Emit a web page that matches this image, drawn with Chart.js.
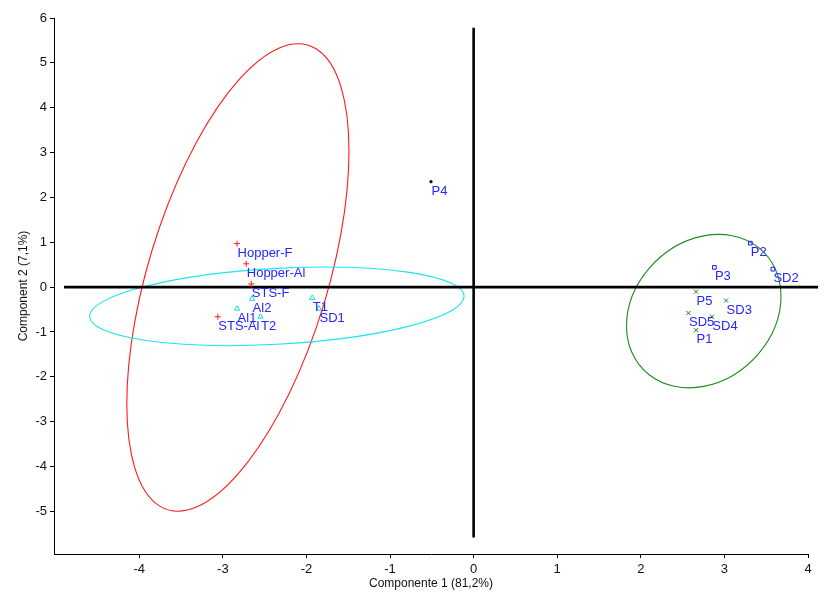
<!DOCTYPE html>
<html>
<head>
<meta charset="utf-8">
<script src="https://cdn.jsdelivr.net/npm/chart.js@4.4.1/dist/chart.umd.min.js"></script>
<style>
  html, body { margin: 0; padding: 0; background: #ffffff; }
  canvas { display: block; }
</style>
</head>
<body>
<canvas id="pca" width="832" height="594"></canvas>
<script>
// PCA scores, grouped by sample family
const redNames = ['Hopper-F', 'Hopper-Al', 'STS-F', 'STS-Al'];
const redX = [-2.83, -2.72, -2.66, -3.06];
const redY = [0.97, 0.52, 0.07, -0.66];

const cyanNames = ['Al2', 'Al1', 'T2', 'T1', 'SD1'];
const cyanX = [-2.65, -2.83, -2.55, -1.93, -1.85];
const cyanY = [-0.26, -0.48, -0.66, -0.24, -0.48];

const blackNames = ['P4'];
const blackX = [-0.51];
const blackY = [2.35];

const blueNames = ['P2', 'P3', 'SD2'];
const blueX = [3.31, 2.88, 3.58];
const blueY = [0.98, 0.44, 0.40];

const greenNames = ['P5', 'SD3', 'SD5', 'SD4', 'P1'];
const greenX = [2.66, 3.02, 2.57, 2.85, 2.66];
const greenY = [-0.10, -0.30, -0.58, -0.66, -0.96];

// Confidence ellipses: centre and two conjugate semi-axis vectors (data units)
const ellipseColors = ['#ff1a1a', '#18e6f0', '#1f8a1f'];
const ellipseCenters = [[-2.82, 0.215], [-2.354, -0.428], [2.753, -0.535]];
const ellipseAxisA = [[1.329, 2.817], [2.240, 0.223], [0.924, 0.330]];
const ellipseAxisB = [[0, 4.384], [0, 0.847], [0, 1.678]];

// Origin reference lines
const hLineX = [-4.9, 4.12];
const hLineY = [0, 0];
const vLineX = [0, 0];
const vLineY = [5.78, -5.58];

// Axis ranges and labelled ticks
const xRange = [-5.02, 4];
const yRange = [-5.95, 6];
const xTickValues = [-4, -3, -2, -1, 0, 1, 2, 3, 4];
const yTickValues = [-5, -4, -3, -2, -1, 0, 1, 2, 3, 4, 5, 6];

const pts = (xs, ys, names) => xs.map((x, i) => ({ x, y: ys[i], name: names ? names[i] : '' }));

const LABEL_COLOR = '#2525ff';
const FONT = "'Liberation Sans', Arial, sans-serif";

const ellipsePlugin = {
  id: 'ellipses',
  beforeDatasetsDraw(chart) {
    const { ctx, scales: { x: xs, y: ys } } = chart;
    ellipseCenters.forEach((c, i) => {
      const cx = xs.getPixelForValue(c[0]);
      const cy = ys.getPixelForValue(c[1]);
      const ax = xs.getPixelForValue(c[0] + ellipseAxisA[i][0]) - cx;
      const ay = ys.getPixelForValue(c[1] + ellipseAxisA[i][1]) - cy;
      const bx = xs.getPixelForValue(c[0] + ellipseAxisB[i][0]) - cx;
      const by = ys.getPixelForValue(c[1] + ellipseAxisB[i][1]) - cy;
      ctx.save();
      ctx.beginPath();
      ctx.save();
      ctx.transform(ax, ay, bx, by, cx, cy);
      ctx.arc(0, 0, 1, 0, Math.PI * 2);
      ctx.restore();
      ctx.strokeStyle = ellipseColors[i];
      ctx.lineWidth = 1.1;
      ctx.stroke();
      ctx.restore();
    });
  }
};

const labelPlugin = {
  id: 'pointLabels',
  afterDatasetsDraw(chart) {
    const { ctx } = chart;
    ctx.save();
    ctx.font = '13px ' + FONT;
    ctx.fillStyle = LABEL_COLOR;
    ctx.textAlign = 'left';
    ctx.textBaseline = 'top';
    chart.data.datasets.forEach((ds, di) => {
      if (!ds.labelled) return;
      const meta = chart.getDatasetMeta(di);
      meta.data.forEach((el, j) => {
        ctx.fillText(ds.data[j].name, el.x + 0.5, el.y + 3);
      });
    });
    ctx.restore();
  }
};

const axisTicks = {
  color: '#111',
  font: { size: 13, family: FONT },
};

new Chart(document.getElementById('pca'), {
  type: 'scatter',
  data: {
    datasets: [
      { data: pts(redX, redY, redNames), labelled: true, pointStyle: 'cross', pointRadius: 3,
        borderColor: '#ff1a1a', borderWidth: 1, backgroundColor: 'transparent' },
      { data: pts(cyanX, cyanY, cyanNames), labelled: true, pointStyle: 'triangle', pointRadius: 3,
        borderColor: '#18d8e8', borderWidth: 1, backgroundColor: 'transparent' },
      { data: pts(blackX, blackY, blackNames), labelled: true, pointStyle: 'circle', pointRadius: 1.6,
        borderColor: '#000', borderWidth: 0, backgroundColor: '#000' },
      { data: pts(blueX, blueY, blueNames), labelled: true, pointStyle: 'rect', pointRadius: 2.6,
        borderColor: '#1a1aff', borderWidth: 1, backgroundColor: 'transparent' },
      { data: pts(greenX, greenY, greenNames), labelled: true, pointStyle: 'crossRot', pointRadius: 3,
        borderColor: '#1f8a1f', borderWidth: 1, backgroundColor: 'transparent' },
      { type: 'line', data: pts(hLineX, hLineY), showLine: true, pointRadius: 0,
        borderColor: '#000', borderWidth: 2.6, clip: false },
      { type: 'line', data: pts(vLineX, vLineY), showLine: true, pointRadius: 0,
        borderColor: '#000', borderWidth: 2.6, clip: false },
    ]
  },
  options: {
    responsive: false,
    animation: false,
    devicePixelRatio: 1,
    layout: { padding: { top: 18, right: 24, left: 0, bottom: 0 } },
    plugins: { legend: { display: false }, tooltip: { enabled: false } },
    scales: {
      x: {
        type: 'linear', min: xRange[0], max: xRange[1],
        border: { display: true, color: '#000', width: 1 },
        grid: { drawOnChartArea: false, drawTicks: true, tickLength: 4, color: '#000' },
        ticks: Object.assign({ padding: 4, maxRotation: 0 }, axisTicks),
        afterBuildTicks(scale) { scale.ticks = xTickValues.map(v => ({ value: v })); },
        title: { display: true, text: 'Componente 1 (81,2%)', color: '#111',
                 font: { size: 12, family: FONT }, padding: { top: 0, bottom: 3 } },
        afterFit(scale) { scale.height = 40; }
      },
      y: {
        type: 'linear', min: yRange[0], max: yRange[1],
        border: { display: true, color: '#000', width: 1 },
        grid: { drawOnChartArea: false, drawTicks: true, tickLength: 4, color: '#000' },
        ticks: Object.assign({ padding: 3 }, axisTicks),
        afterBuildTicks(scale) { scale.ticks = yTickValues.map(v => ({ value: v })); },
        title: { display: true, text: 'Component 2 (7,1%)', color: '#111',
                 font: { size: 12, family: FONT }, padding: { top: 16, bottom: 0 } },
        afterFit(scale) { scale.width = 54; }
      }
    }
  },
  plugins: [ellipsePlugin, labelPlugin]
});
</script>
</body>
</html>
